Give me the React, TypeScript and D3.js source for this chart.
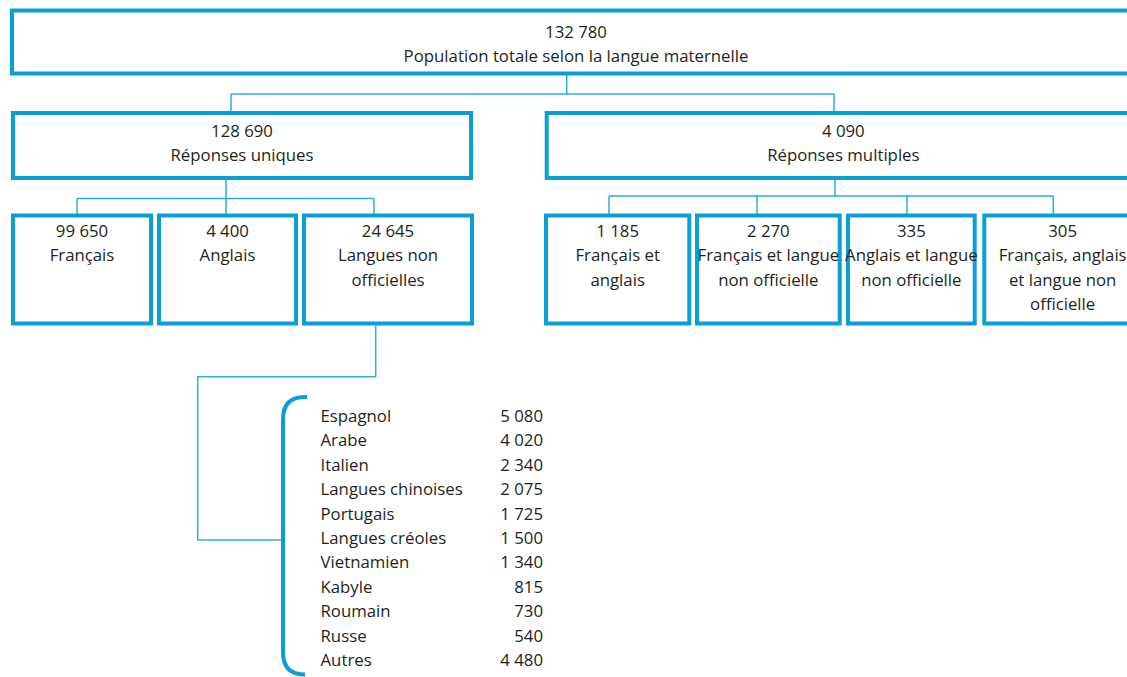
import React from "react";
import * as d3 from "d3";

// ---------- DATA ----------
const rootLabel = "Population totale selon la langue maternelle";
const rootValue = 132780;

const level1Labels = ["Réponses uniques", "Réponses multiples"];
const level1Values = [128690, 4090];

const uniqueLabels = ["Français", "Anglais", "Langues non|officielles"];
const uniqueValues = [99650, 4400, 24645];

const multipleLabels = [
  "Français et|anglais",
  "Français et langue|non officielle",
  "Anglais et langue|non officielle",
  "Français, anglais|et langue non|officielle",
];
const multipleValues = [1185, 2270, 335, 305];

const languageNames = [
  "Espagnol",
  "Arabe",
  "Italien",
  "Langues chinoises",
  "Portugais",
  "Langues créoles",
  "Vietnamien",
  "Kabyle",
  "Roumain",
  "Russe",
  "Autres",
];
const languageValues = [5080, 4020, 2340, 2075, 1725, 1500, 1340, 815, 730, 540, 4480];

// ---------- STYLE / LAYOUT ----------
const W = 1127;
const H = 677;
const BOX = "#0a9fd3";
const LINK = "#2badde";
const TEXT = "#231f20";
const FONT = "'Open Sans', 'Noto Sans', sans-serif";
const FS = 16.8;
const LH = 24.5;

const fmt = d3.formatLocale({
  decimal: ",",
  thousands: " ",
  grouping: [3],
  currency: ["", " $"],
}).format(",d");

type Box = { x0: number; x1: number; y0: number; y1: number; label: string; value: number };

// Row extents (stroke centers)
const rowTop = { y0: 10.5, y1: 73.5 };
const row2 = { y0: 113, y1: 178 };
const row3 = { y0: 215.5, y1: 323.5 };

const rootBox: Box = { x0: 12, x1: 1140, ...rowTop, label: rootLabel, value: rootValue };
const level1X = [
  [13, 471],
  [546.7, 1140],
];
const level1Boxes: Box[] = level1Labels.map((l, i) => ({
  x0: level1X[i][0],
  x1: level1X[i][1],
  ...row2,
  label: l,
  value: level1Values[i],
}));
const uniqueX = [
  [13, 151],
  [159, 296],
  [304, 472],
];
const uniqueBoxes: Box[] = uniqueLabels.map((l, i) => ({
  x0: uniqueX[i][0],
  x1: uniqueX[i][1],
  ...row3,
  label: l,
  value: uniqueValues[i],
}));
const multipleX = [
  [546, 689.3],
  [697, 839.7],
  [848, 974.7],
  [984.3, 1141],
];
const multipleBoxes: Box[] = multipleLabels.map((l, i) => ({
  x0: multipleX[i][0],
  x1: multipleX[i][1],
  ...row3,
  label: l,
  value: multipleValues[i],
}));

// connectors: parent anchor x, bar y, child anchor xs
const links = [
  { px: 566.7, py: rootBox.y1 + 1.5, by: 94, cx: [231, 834], cy: row2.y0 - 1.5 },
  { px: 226, py: row2.y1 + 1.5, by: 198.5, cx: [77, 226, 374], cy: row3.y0 - 1.5 },
  { px: 835, py: row2.y1 + 1.5, by: 196, cx: [609, 757, 907, 1053.3], cy: row3.y0 - 1.5 },
];

function linkPath(l: (typeof links)[number]) {
  const p = d3.path();
  p.moveTo(l.px, l.py);
  p.lineTo(l.px, l.by);
  const xs = l.cx;
  p.moveTo(d3.min(xs)!, l.by);
  p.lineTo(d3.max(xs)!, l.by);
  xs.forEach((x) => {
    p.moveTo(x, l.by);
    p.lineTo(x, l.cy);
  });
  return p.toString();
}

// list
const listY = d3.scalePoint<string>().domain(languageNames).range([422, 666]);
const listNameX = 320.5;
const listValueX = 543;
const bracket = { x: 283, y0: 397, y1: 674.5, xr: 307, r: 22 };

function bracketPath() {
  const p = d3.path();
  const { x, y0, y1, xr, r } = bracket;
  p.moveTo(xr, y0);
  p.lineTo(x + r, y0);
  p.quadraticCurveTo(x, y0, x, y0 + r);
  p.lineTo(x, y1 - r);
  p.quadraticCurveTo(x, y1, x + r, y1);
  p.lineTo(xr - 2, y1);
  return p.toString();
}

function listLinkPath() {
  const p = d3.path();
  const src = uniqueBoxes[2];
  const sx = 375.7;
  p.moveTo(sx, src.y1 + 2);
  p.lineTo(sx, 376.7);
  p.lineTo(197.7, 376.7);
  p.lineTo(197.7, 540);
  p.lineTo(bracket.x - 2, 540);
  return p.toString();
}

function BoxNode({ b, firstBaseline }: { b: Box; firstBaseline: number }) {
  const lines = [fmt(b.value), ...b.label.split("|")];
  const cx = (b.x0 + b.x1) / 2;
  return (
    <g>
      <rect
        x={b.x0}
        y={b.y0}
        width={b.x1 - b.x0}
        height={b.y1 - b.y0}
        fill="#fff"
        stroke={BOX}
        strokeWidth={4}
      />
      <text x={cx} textAnchor="middle" fill={TEXT} fontFamily={FONT} fontSize={FS}>
        {lines.map((t, i) => (
          <tspan key={i} x={cx} y={firstBaseline + i * LH}>
            {t}
          </tspan>
        ))}
      </text>
    </g>
  );
}

export default function App() {
  return (
    <svg width={W} height={H} style={{ position: "absolute", left: 0, top: 0, background: "#fff" }}>
      {links.map((l, i) => (
        <path key={i} d={linkPath(l)} fill="none" stroke={LINK} strokeWidth={1.5} />
      ))}
      <path d={listLinkPath()} fill="none" stroke={LINK} strokeWidth={1.5} />
      <BoxNode b={rootBox} firstBaseline={37.5} />
      {level1Boxes.map((b, i) => (
        <BoxNode key={i} b={b} firstBaseline={136.5} />
      ))}
      {uniqueBoxes.map((b, i) => (
        <BoxNode key={i} b={b} firstBaseline={236.5} />
      ))}
      {multipleBoxes.map((b, i) => (
        <BoxNode key={i} b={b} firstBaseline={236.5} />
      ))}
      <path d={bracketPath()} fill="none" stroke={BOX} strokeWidth={4} strokeLinecap="butt" />
      <g fontFamily={FONT} fontSize={FS} fill={TEXT}>
        {languageNames.map((n, i) => (
          <g key={n}>
            <text x={listNameX} y={listY(n)}>
              {n}
            </text>
            <text x={listValueX} y={listY(n)} textAnchor="end">
              {fmt(languageValues[i])}
            </text>
          </g>
        ))}
      </g>
    </svg>
  );
}
